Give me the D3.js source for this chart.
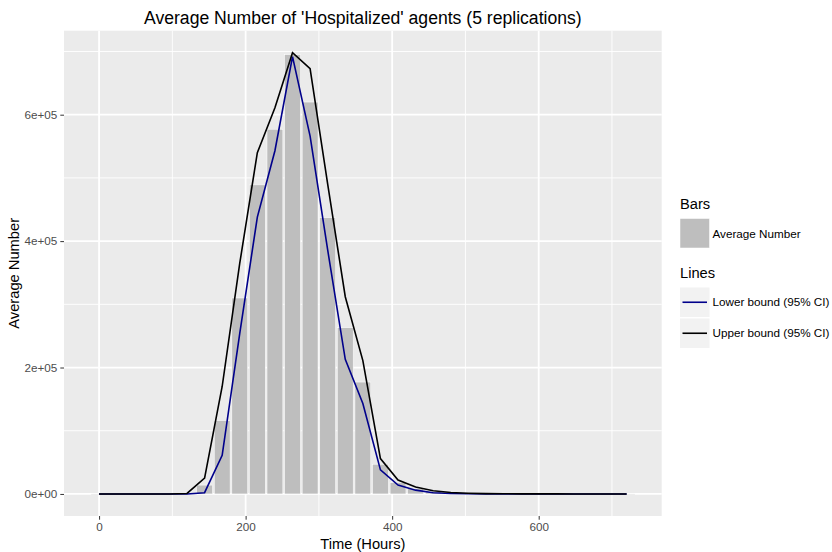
<!DOCTYPE html>
<html>
<head>
<meta charset="utf-8">
<script src="https://cdn.jsdelivr.net/npm/d3@7"></script>
<style>
  html, body { margin: 0; padding: 0; background: #ffffff; }
  svg { display: block; font-family: "Liberation Sans", Arial, Helvetica, sans-serif; }
</style>
</head>
<body>
<svg id="chart" width="832" height="552"></svg>
<script>
// ---- data ----
const hours = [0, 24, 48, 72, 96, 120, 144, 168, 192, 216, 240, 264, 288, 312, 336, 360, 384, 408, 432, 456, 480, 504, 528, 552, 576, 600, 624, 648, 672, 696, 720];
const averageNumber = [0, 0, 0, 0, 0, 500, 14000, 116000, 310000, 489000, 577000, 695000, 620000, 437000, 263000, 177000, 47000, 18000, 8500, 3500, 1500, 700, 300, 150, 80, 40, 20, 10, 5, 3, 2];
const upperBound = [0, 0, 0, 0, 0, 800, 25000, 170000, 365000, 540000, 611000, 698000, 673000, 490000, 312000, 211000, 56000, 22000, 11000, 5000, 2200, 1100, 500, 250, 130, 70, 35, 18, 9, 5, 3];
const lowerBound = [0, 0, 0, 0, 0, 0, 2000, 61000, 254000, 438000, 543000, 692000, 566000, 386000, 213000, 143000, 38000, 14000, 6000, 2000, 800, 300, 100, 50, 30, 10, 5, 2, 1, 1, 1];
const xTicks = [0, 200, 400, 600];
const xMinor = [100, 300, 500, 700];
const yTicks = [0, 200000, 400000, 600000];
const yMinor = [100000, 300000, 500000, 700000];
const yTickLabels = ["0e+00", "2e+05", "4e+05", "6e+05"];
const titleText = "Average Number of 'Hospitalized' agents (5 replications)";
const xTitle = "Time (Hours)";
const yTitle = "Average Number";
const legendBarsTitle = "Bars";
const legendBarsLabel = "Average Number";
const legendLinesTitle = "Lines";
const lineSeries = [
  { name: "Lower bound (95% CI)", values: lowerBound, color: "#00008B" },
  { name: "Upper bound (95% CI)", values: upperBound, color: "#000000" }
];
const barHalfWidth = 10.8; // 0.9 * 24h / 2

// ---- layout ----
const panel = { left: 64, right: 661.7, top: 30.7, bottom: 516 };
const svg = d3.select("#chart");

const xLo = d3.min(hours) - barHalfWidth, xHi = d3.max(hours) + barHalfWidth;
const xPad = (xHi - xLo) * 0.05;
const x = d3.scaleLinear().domain([xLo - xPad, xHi + xPad]).range([panel.left, panel.right]);
const yMax = d3.max(upperBound);
const y = d3.scaleLinear().domain([-0.05 * yMax, 1.05 * yMax]).range([panel.bottom, panel.top]);

// panel background
svg.append("rect")
  .attr("x", panel.left).attr("y", panel.top)
  .attr("width", panel.right - panel.left).attr("height", panel.bottom - panel.top)
  .attr("fill", "#EBEBEB");

const grid = svg.append("g");
grid.selectAll(".xminor").data(xMinor).join("line")
  .attr("x1", d => x(d)).attr("x2", d => x(d))
  .attr("y1", panel.top).attr("y2", panel.bottom)
  .attr("stroke", "#ffffff").attr("stroke-width", 0.9);
grid.selectAll(".yminor").data(yMinor).join("line")
  .attr("y1", d => y(d)).attr("y2", d => y(d))
  .attr("x1", panel.left).attr("x2", panel.right)
  .attr("stroke", "#ffffff").attr("stroke-width", 0.9);
grid.selectAll(".xmajor").data(xTicks).join("line")
  .attr("x1", d => x(d)).attr("x2", d => x(d))
  .attr("y1", panel.top).attr("y2", panel.bottom)
  .attr("stroke", "#ffffff").attr("stroke-width", 1.8);
grid.selectAll(".ymajor").data(yTicks).join("line")
  .attr("y1", d => y(d)).attr("y2", d => y(d))
  .attr("x1", panel.left).attr("x2", panel.right)
  .attr("stroke", "#ffffff").attr("stroke-width", 1.8);

// bars
svg.append("g").selectAll("rect").data(hours.map((h, i) => ({ h, v: averageNumber[i] }))).join("rect")
  .attr("x", d => x(d.h - barHalfWidth))
  .attr("width", d => x(d.h + barHalfWidth) - x(d.h - barHalfWidth))
  .attr("y", d => y(d.v))
  .attr("height", d => Math.max(0.6, y(0) - y(d.v)))
  .attr("fill", "#BEBEBE")
  .attr("stroke", "#ffffff").attr("stroke-width", 0.5);

// lines
const lineGen = d3.line().x(d => x(d[0])).y(d => y(d[1]));
svg.append("g").selectAll("path").data(lineSeries).join("path")
  .attr("d", s => lineGen(hours.map((h, i) => [h, s.values[i]])))
  .attr("fill", "none")
  .attr("stroke", s => s.color)
  .attr("stroke-width", 1.6)
  .attr("stroke-linejoin", "miter");

// axes
const xAxis = svg.append("g").attr("transform", `translate(0,${panel.bottom})`)
  .call(d3.axisBottom(x).tickValues(xTicks).tickSize(3.7).tickPadding(3).tickFormat(d3.format("d")));
const yAxis = svg.append("g").attr("transform", `translate(${panel.left},0)`)
  .call(d3.axisLeft(y).tickValues(yTicks).tickSize(3.7).tickPadding(3).tickFormat((d, i) => yTickLabels[i]));
[xAxis, yAxis].forEach(a => {
  a.select(".domain").remove();
  a.selectAll(".tick line").attr("stroke", "#333333").attr("stroke-width", 1);
  a.selectAll(".tick text").attr("fill", "#4D4D4D").attr("font-size", "11.7px")
    .attr("font-family", "'Liberation Sans', Arial, Helvetica, sans-serif");
});

// titles
svg.append("text").attr("x", (panel.left + panel.right) / 2).attr("y", 23.5)
  .attr("text-anchor", "middle").attr("font-size", "17.6px").attr("fill", "#000")
  .text(titleText);
svg.append("text").attr("x", (panel.left + panel.right) / 2).attr("y", 549)
  .attr("text-anchor", "middle").attr("font-size", "14.7px").attr("fill", "#000")
  .text(xTitle);
svg.append("text").attr("transform", `translate(19,${(panel.top + panel.bottom) / 2}) rotate(-90)`)
  .attr("text-anchor", "middle").attr("font-size", "14.7px").attr("fill", "#000")
  .text(yTitle);

// legend
const lg = svg.append("g");
const keyX = 680, keyW = 29.5, keyH = 29.5;
lg.append("text").attr("x", keyX).attr("y", 209).attr("font-size", "14.7px").text(legendBarsTitle);
lg.append("rect").attr("x", keyX).attr("y", 218.5).attr("width", keyW).attr("height", keyH)
  .attr("fill", "#BEBEBE").attr("stroke", "#ffffff").attr("stroke-width", 0.5);
lg.append("text").attr("x", keyX + keyW + 3).attr("y", 237.5).attr("font-size", "11.7px").attr("fill", "#000")
  .text(legendBarsLabel);
lg.append("text").attr("x", keyX).attr("y", 278).attr("font-size", "14.7px").text(legendLinesTitle);
lineSeries.forEach((s, i) => {
  const ky = 287.5 + i * 31;
  lg.append("rect").attr("x", keyX).attr("y", ky).attr("width", keyW).attr("height", keyH)
    .attr("fill", "#F2F2F2");
  lg.append("line").attr("x1", keyX + 2.5).attr("x2", keyX + keyW - 2.5)
    .attr("y1", ky + keyH / 2).attr("y2", ky + keyH / 2)
    .attr("stroke", s.color).attr("stroke-width", 1.6);
  lg.append("text").attr("x", keyX + keyW + 3).attr("y", ky + keyH / 2 + 4.2).attr("font-size", "11.7px").attr("fill", "#000")
    .text(s.name);
});
</script>
</body>
</html>
